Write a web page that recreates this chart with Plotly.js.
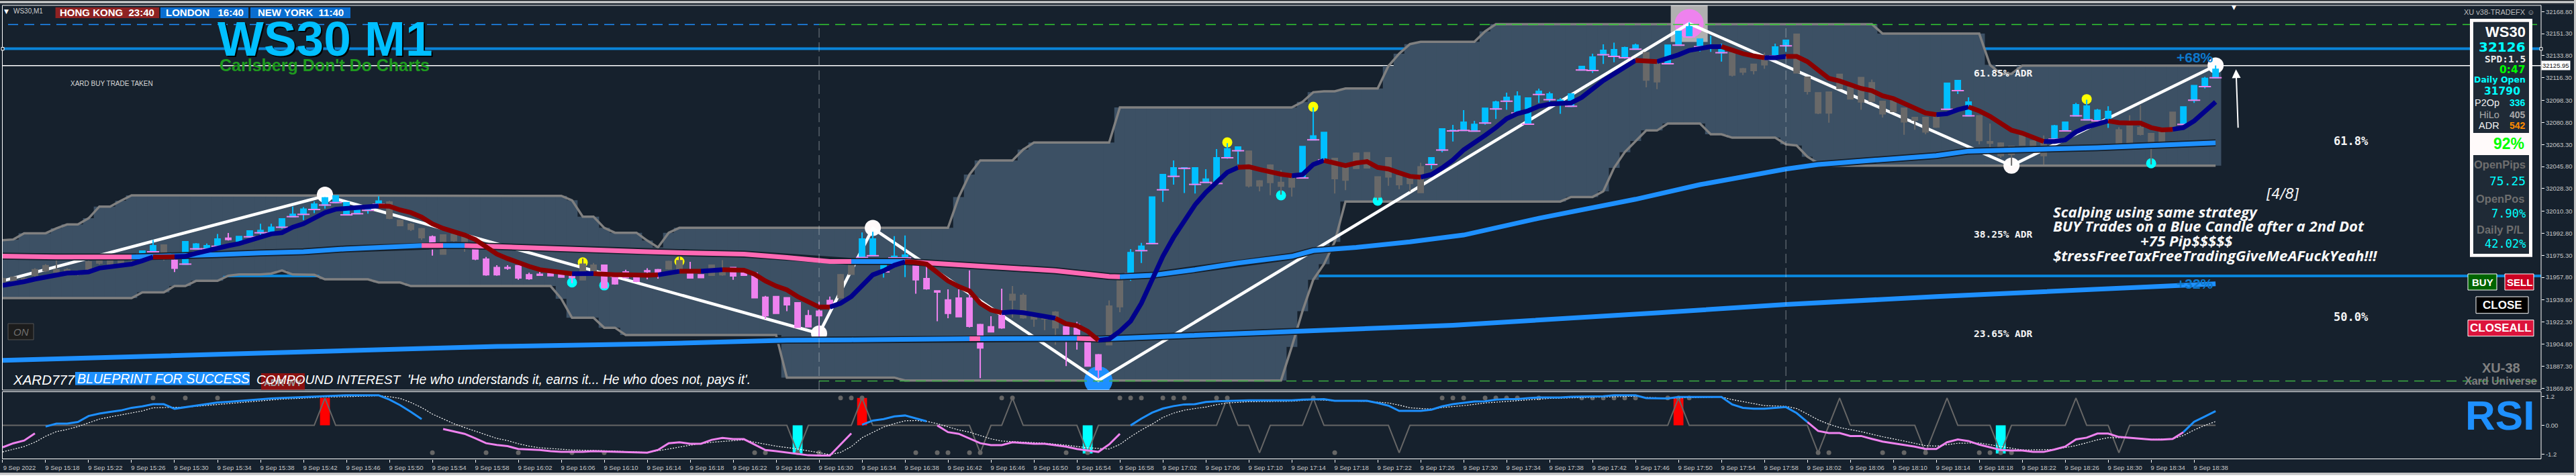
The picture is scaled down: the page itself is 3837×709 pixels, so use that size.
<!DOCTYPE html>
<html><head><meta charset="utf-8">
<script src="https://cdn.plot.ly/plotly-3.0.1.min.js"></script>
<style>html,body{margin:0;padding:0;background:#16212d;overflow:hidden}#c{width:3837px;height:709px}</style>
</head><body><div id="c"></div>
<script>
// ---------- values (one bar = one minute, bar 0 = 15:14) ----------
const kindRuns=[['g',13],['b',2],['g',1],['p',1],['b',4],['p',1],['b',14],['g',4],['p',1],['g',3],['p',10],['g',2],['p',6],['g',2],['p',2],['g',2],['p',10],['g',2],['b',5],['p',9],['g',5],['p',4],['g',2],['b',11],['g',5],['b',3],['g',9],['b',20],['g',2],['b',6],['g',4],['b',2],['g',14],['b',3],['g',7],['b',6],['g',6],['b',4]];
const bodyHigh=[31956.8,31958,31956.8,31963.9,31967,31963.9,31963.9,31962.1,31970.1,31971,
31971,31971,31973.6,31978.6,31982.9,31983.4,31971.3,31986.1,31984.3,31982.9,
31988.2,31988.9,31990.2,31994.6,31995,31997.6,32004.2,32007.8,32011.9,32015.9,
32020.9,32022.5,32017.2,32012.7,32013.6,32018.4,32017.5,32003,31999.9,31996.4,
31990,31991.4,31991.8,31990,31979.9,31972.2,31965.6,31965.6,31967.1,31959.8,
31960.3,31960.8,31960.3,31958.5,31968.3,31967.4,31967.4,31959.4,31962.1,31957.6,
31963,31963.9,31970.4,31971,31961.2,31959.8,31967.4,31964.7,31965.6,31962.1,
31961.2,31942,31942.5,31941.6,31937.6,31927.4,31931,31939.5,31959.8,31967.4,
31988.2,31988.2,31967.4,31974.5,31975.4,31968.3,31956.8,31947,31939.9,31941.3,
31941.3,31920.3,31918.5,31927.4,31944.3,31943.4,31927.4,31926.5,31930.1,31918.5,
31920.3,31907.9,31896.3,31934.9,31955,31977.5,31982.5,32021.6,32039.4,32044.7,
32044.7,32044.7,32035.8,32052.7,32059.8,32061.3,32058,32034.4,32046.9,32033.2,
32036.7,32061.6,32070,32072.8,32052.2,32047.4,32056.3,32056.8,32037.6,32052.7,
32038.5,32037.6,32045.6,32052.7,32075.6,32074.6,32081,32079.2,32092,32097,
32100.7,32101.6,32100.2,32105.5,32103.4,32098.4,32103.4,32125.2,32132.7,32138,
32138.6,32140.1,32142.1,32136.2,32127.4,32142.1,32153.1,32156.7,32146.9,32141.6,
32139.8,32136.2,32123.4,32127,32130.9,32140.7,32146,32150.8,32116.7,32104.3,
32104.8,32119,32108.7,32116.5,32112.3,32097.5,32098,32092,32084.7,32084.7,
32085.6,32111.9,32114,32097,32086.1,32065.5,32064.3,32061.6,32071.4,32066,
32065.2,32078,32081,32094.8,32093.8,32090.4,32089.5,32074.9,32078.1,32076.7,
32071.9,32073.2,32088.8,32093.1,32110.1,32115.8,32122.9];
const bodyLow=[31954.4,31955,31955,31959.4,31963,31962.1,31961.5,31960.3,31963.9,31969.2,
31968.3,31968.7,31971.5,31976.3,31978.1,31976.3,31965.1,31968.3,31980.4,31980.4,
31982.5,31987.8,31984.6,31990,31993.2,31993.2,31997.6,32006,32007.8,32011.7,
32015.2,32017.2,32007.4,32008.3,32011,32015.9,32004.7,31998.9,31995.9,31989.3,
31980.7,31976.3,31987,31986,31972.4,31959.8,31959.8,31965.1,31957.3,31956.8,
31959.4,31959,31958,31957.6,31955.9,31961.2,31949.6,31952.7,31957.6,31954.6,
31962.4,31959.8,31964.7,31963.9,31957.3,31957.6,31959.4,31959.8,31958.9,31959.4,
31941.6,31927.4,31929.2,31936,31918.2,31918.5,31927.4,31935.4,31941.6,31960.3,
31973.6,31975,31962.1,31973.3,31973.3,31955.9,31948.8,31946.1,31929.2,31926.5,
31918.9,31901.7,31914.6,31917.7,31939.9,31925.7,31924.8,31924.8,31917.7,31912.3,
31909.7,31887.4,31884.4,31904.3,31934.5,31960.8,31979,31984.6,32027.3,32038,
32044.4,32031.6,32033.2,32032.3,32052.7,32058.4,32030.5,32030.5,32033.2,32030.2,
32029.6,32036.7,32067,32051,32036.2,32035,32044.4,32044.7,32021.6,32037.6,
32031.4,32032.3,32025.2,32047.4,32058.9,32074,32074.4,32073.9,32080.3,32091.5,
32097.7,32088.3,32079.4,32103,32098.9,32094.8,32093.6,32122.4,32122,32134.5,
32133.2,32132.2,32138.9,32114.4,32113.1,32127.4,32142.1,32148.7,32141,32140.7,
32136.2,32118.5,32120.8,32122,32126.5,32133.6,32141.6,32120.2,32105.5,32088.3,
32088.3,32107.8,32099.5,32097.1,32097.7,32087.7,32089.5,32081.2,32082.6,32073.2,
32077.1,32091.3,32106,32086,32066.4,32064.3,32054.5,32055.4,32062.9,32060.7,
32054.5,32067.5,32074,32086.1,32082.9,32082,32082,32063.4,32063.4,32071.4,
32065.3,32066,32076.7,32079.2,32098.4,32109.2,32116.3];
const wickHigh=[31957.6,31958.5,31958,31965,31968.3,31971.9,31965,31963,31971,31972,
31972,31972,31975,31979,31987.5,31984,31972,31986.5,31985,31984.6,
31992.3,31993,31990.5,31995,32000.4,32000.4,32004.7,32014,32013.6,32018,
32021.6,32023,32017.5,32013,32014,32022.2,32018.5,32003.5,32001,31997,
31991,31992,31992,31991,31980.5,31974,31967.4,31967.4,31967.5,31961.5,
31963.3,31962.6,31961,31961.2,31972.7,31969.2,31968,31960,31963.9,31958,
31965.1,31964.5,31971,31974.2,31970.1,31960,31968,31971.5,31966,31963,
31962,31943,31943,31942,31938,31931.9,31938.4,31942.5,31960.5,31968,
31993.5,31994,31968.3,31990.5,31991,31969,31968.3,31947.2,31948.2,31948.2,
31963.3,31921,31927,31948.8,31950.9,31945.2,31928,31927,31931,31919,
31922.4,31908.5,31897,31939.5,31955.5,31980.2,31985.2,32022,32040,32050.6,
32045,32045,32043.7,32059.7,32064.3,32061.5,32058.5,32035,32047.5,32043,
32037,32062,32092.7,32073,32052.5,32048,32057,32057,32038,32053,
32039,32038,32048.8,32053,32076,32078.8,32090.6,32082,32092.5,32098,
32104.4,32105.5,32100.5,32107.6,32105.1,32100.2,32104,32125.5,32135.4,32142.8,
32144.2,32141,32143.3,32136.5,32128,32142.5,32153.5,32160.2,32147.5,32149.6,
32143.3,32136.5,32124,32127.5,32136.2,32143.3,32146.5,32151,32117,32104.5,
32105,32119.5,32109,32117,32114.9,32098,32099.8,32092.5,32085,32085,
32086,32112,32114.5,32100.7,32086.5,32079.9,32065,32062,32072,32066.5,
32070.5,32078.8,32081.5,32096.3,32098.9,32091.5,32093.6,32077,32086.5,32094.5,
32072.5,32073.5,32089,32093.5,32110.5,32117,32126];
const wickLow=[31953.7,31954.5,31954,31958,31962,31960.3,31960,31959,31962,31968,
31967,31967,31970,31976,31978,31971,31962,31968,31980,31978.1,
31982,31987,31984.5,31989.3,31991.1,31993,31996.4,32006,32003.3,32008.8,
32012.4,32016.5,32007,32008,32008.3,32015,32004,31998.5,31994.6,31987.5,
31975,31976,31986,31978.1,31971.5,31959,31959,31963.9,31955.9,31955.9,
31958.9,31958.5,31957.5,31953.2,31955.5,31960.5,31948.8,31952,31957,31954,
31956.2,31956.8,31964,31963,31957,31957,31959,31959,31955.9,31959,
31941,31924.8,31929,31931,31918,31918,31909.7,31935,31941,31960,
31973,31975,31957.6,31973,31958,31944.8,31948,31923,31925.3,31926,
31918,31877.7,31914,31917,31925.7,31925,31918.5,31915.9,31904.3,31887.4,
31900.4,31887,31877.7,31904,31930.1,31955,31969.2,31984,32017.7,32031.4,
32024.8,32024.3,32033,32032,32052,32047.7,32029.1,32026.1,32023,32023.4,
32022,32036.5,32067,32051,32024.3,32027,32044,32044.5,32019,32030.5,
32027.8,32026,32025,32043.8,32057.2,32065.7,32074,32073.5,32079,32083.5,
32090.9,32088,32079,32096.3,32096.3,32087.7,32093,32122,32120.2,32127.2,
32128.6,32131.4,32138.5,32108.7,32107.3,32127,32142,32148.5,32137.1,32136.8,
32129.1,32117.2,32118.5,32119,32123.3,32133,32136.8,32120,32103,32087.4,
32080.6,32107.5,32099,32090.9,32097.5,32084.7,32089,32071,32075,32071.4,
32076.5,32091,32103.4,32086,32063.4,32057.2,32052.7,32046.5,32062.5,32060,
32047.4,32067,32074,32086,32082.5,32082,32076.4,32063,32063,32070.5,
32047.4,32066,32076.5,32079,32096.3,32107.8,32116];

const bandUpperRuns=[[31987.3,1],[31987.9,1],[31992.8,3],[31996.7,1],[31999.8,2],[32004.7,1],[32014,2],[32018.6,1],[32022.9,40],[32022.5,1],[32019,1],[32006,2],[31997.1,1],[31993.2,3],[31987,1],[31981.6,1],[31993.2,1],[31997.1,26],[32021.6,1],[32039.4,1],[32050.6,4],[32059.3,1],[32064.8,8],[32092.7,17],[32097.1,1],[32104.8,1],[32105.5,2],[32107.8,4],[32125.6,1],[32135.4,1],[32143,1],[32144.8,6],[32153.1,1],[32158.8,36],[32151.3,10],[32126.5,1],[32119.4,2],[32125.9,19]];
const bandLowerRuns=[[31941.3,13],[31945.9,3],[31950.9,2],[31955,3],[31959.1,1],[31960.1,3],[31960.8,1],[31963.3,1],[31960.1,2],[31959.8,1],[31956.2,5],[31953.7,3],[31950.9,14],[31940.8,1],[31925.7,3],[31917.8,2],[31912,15],[31878.2,11],[31875.9,36],[31902.6,1],[31931,1],[31955.9,1],[31968.3,1],[31986,1],[32018,21],[32021.6,3],[32026.1,1],[32044.7,1],[32057.2,1],[32066,1],[32074.4,2],[32079.9,4],[32071.4,2],[32068.7,5],[32063.4,1],[32062.5,1],[32053.6,1],[32048.3,1],[32046.5,37]];

const fastMa=[31951.4,31952.7,31954.4,31956.4,31958,31960.3,31961.2,31961.5,31962.1,31965.1,
31966.2,31966.9,31968.3,31971,31974,31974.2,31974.2,31974.5,31976.8,31979,
31980.7,31982.9,31984.6,31987,31989.6,31992.3,31993.2,31997.6,32000.3,32004.7,
32009.2,32011.9,32012.7,32013.1,32013.6,32014.5,32014.2,32011.3,32009.2,32005.6,
32000.3,31996.7,31994.1,31991.4,31987.8,31982.5,31976.3,31972.7,31969.2,31966.5,
31963.9,31963,31962.1,31960.7,31960.7,31960.8,31960.1,31959.8,31959.8,31959.4,
31959.4,31959.8,31961.5,31962.6,31962.6,31962.6,31963,31963.9,31963.9,31963.5,
31960.3,31955,31950.9,31947.9,31942.5,31938.4,31934.2,31934.2,31937.2,31942.5,
31951.4,31959.8,31963,31967.4,31970.1,31969.7,31968.3,31961.2,31955,31950.5,
31947,31937.2,31931.9,31929.7,31930.4,31929.7,31928.3,31927.4,31925.3,31920.9,
31919.4,31915,31907.9,31908.8,31915,31923,31937.2,31955.9,31974.5,31989.6,
32003,32015.4,32025.2,32033.2,32041.2,32045.1,32045.6,32043.5,32041.5,32039.7,
32038.5,32039.4,32047.4,32050.6,32048.6,32046.5,32048.6,32049.7,32045.1,32043.8,
32040.8,32038,32037.3,32039.4,32044.7,32051,32059,32064.3,32070.5,32076.7,
32083.8,32087.7,32090,32093.6,32095.4,32095.9,32096.3,32100.7,32107.8,32114,
32119.4,32124.7,32130,32130,32129.1,32131.4,32134.5,32138,32139.8,32141,
32141,32138,32135.4,32133.6,32132.2,32132.2,32133.2,32133.2,32129.1,32122,
32115.8,32113.7,32110.8,32107.8,32106,32102,32099.8,32095.9,32091.8,32088.3,
32087,32087.7,32090.9,32093.1,32090,32085.6,32080.3,32074.6,32072.3,32068.7,
32065.7,32065.7,32066.9,32073.2,32077.1,32079.9,32082,32080.6,32080.3,32080.3,
32076.7,32074.9,32075.3,32076.7,32082,32089.2,32097.1];
const fastMaRed=[[14,16],[35,53],[55,61],[63,65],[67,77],[84,93],[98,102],[115,120],[123,132],[152,154],[160,164],[166,180],[183,190],[196,202]];
const fastMaNavy=[[0,14],[16,35],[53,55],[61,63],[65,67],[77,84],[93,98],[102,115],[120,123],[132,152],[154,160],[164,166],[180,183],[190,196],[202,206]];

const midMaBars=[0,2,5,12,16,20,24,28,32,36,39,41,43,46,52,56,60,64,69,73,77,79,84,90,98,103,104,107,111,115,120,122,126,131,136,143,152,158,166,169,180,183,195,206];
const midMaVals=[31974.7,31974.3,31974,31974,31974.5,31975.8,31977.2,31978.1,31980.4,31982.2,31983.1,31983.1,31983.1,31982.2,31979.9,31978.6,31978.1,31977.2,31976.3,31973.6,31970.4,31970.4,31970.4,31967.4,31963,31958.5,31958.2,31959.4,31963.9,31969.2,31974.5,31979,31981.6,31986,31991.4,32004.7,32019.8,32031.4,32043.8,32047.4,32054.5,32058,32060.7,32064.6];
const midMaPink=[[0,12],[39,41],[43,79],[84,104]];
const slowMaBars=[0,15,30,46,60,73,79,89,90,91,99,100,102,110,120,135,154,166,180,206];
const slowMaVals=[31891.9,31895.4,31899,31902.9,31904.9,31907.9,31908.2,31909.1,31909.1,31909.1,31909.3,31909.3,31908.8,31911.4,31914.1,31919.8,31929.6,31936.3,31942.5,31952.7];
const slowMaPink=[[90,91],[100,102]];

const zigzagBars=[0,30,76,81,102,157,187,206];
const zigzagVals=[31955,32022.5,31913.2,31996.7,31875.9,32159.3,32046.5,32125.9];
const whiteDotBars=[30,76,81,187,206];
const whiteDotVals=[32023.4,31913.2,31997,32046.5,32126];
const yellowDotBars=[54,63,114,122,194];
const yellowDotVals=[31969.7,31970.4,32065,32093.2,32099.3];
const cyanDotBars=[53,56,119,128,200];
const cyanDotVals=[31953.7,31951.4,32022.9,32018.6,32048.3];

const priceTicks=[32168.80,32151.30,32133.80,32116.30,32098.30,32080.80,32063.30,32045.80,32028.30,32010.30,31992.80,31975.30,31957.80,31939.80,31922.30,31904.80,31887.30,31869.80];
const timeTickBars=[0,4,8,12,16,20,24,28,32,36,40,44,48,52,56,60,64,68,72,76,80,84,88,92,96,100,104,108,112,116,120,124,128,132,136,140,144,148,152,156,160,164,168,172,176,180,184,188,192,196,200,204];
const timeTickLabels=['9 Sep 2022','9 Sep 15:18','9 Sep 15:22','9 Sep 15:26','9 Sep 15:30','9 Sep 15:34','9 Sep 15:38','9 Sep 15:42','9 Sep 15:46','9 Sep 15:50','9 Sep 15:54','9 Sep 15:58','9 Sep 16:02','9 Sep 16:06','9 Sep 16:10','9 Sep 16:14','9 Sep 16:18','9 Sep 16:22','9 Sep 16:26','9 Sep 16:30','9 Sep 16:34','9 Sep 16:38','9 Sep 16:42','9 Sep 16:46','9 Sep 16:50','9 Sep 16:54','9 Sep 16:58','9 Sep 17:02','9 Sep 17:06','9 Sep 17:10','9 Sep 17:14','9 Sep 17:18','9 Sep 17:22','9 Sep 17:26','9 Sep 17:30','9 Sep 17:34','9 Sep 17:38','9 Sep 17:42','9 Sep 17:46','9 Sep 17:50','9 Sep 17:54','9 Sep 17:58','9 Sep 18:02','9 Sep 18:06','9 Sep 18:10','9 Sep 18:14','9 Sep 18:18','9 Sep 18:22','9 Sep 18:26','9 Sep 18:30','9 Sep 18:34','9 Sep 18:38'];

const rsi=[-0.91,-0.74,-0.63,-0.33,-0.05,0.07,0.07,0.14,0.39,0.49,
0.56,0.62,0.73,0.79,0.88,0.88,0.69,0.76,0.82,0.88,
0.95,0.98,1.02,1.05,1.08,1.12,1.14,1.16,1.18,1.21,
1.21,1.25,1.25,1.25,1.25,1.25,1.07,0.84,0.56,0.26,
null,-0.15,-0.26,-0.35,-0.54,-0.74,-0.81,-0.86,-0.98,-1.00,
-1.02,-1.07,-1.10,-1.10,-1.10,-1.07,-1.08,-1.10,-1.10,-1.13,
-1.13,-1.02,-0.74,-0.70,-0.76,-0.76,-0.60,-0.52,-0.57,-0.57,
-0.79,-1.02,-1.07,-1.13,-1.19,-1.24,-1.25,-1.25,-0.79,-0.33,
0.03,0.20,0.26,0.37,0.41,0.30,0.17,0.00,-0.28,-0.35,
-0.54,-0.74,-0.82,-0.82,-0.70,-0.74,-0.76,-0.76,-0.82,-0.88,
-0.98,-1.04,-1.10,-0.79,-0.35,0.00,0.28,0.53,0.70,0.80,
0.87,0.88,0.97,1.00,1.02,1.04,1.04,1.04,1.04,1.04,
1.04,1.07,1.09,1.09,1.02,1.02,1.02,1.02,0.93,0.82,
0.60,0.60,0.60,0.65,0.79,0.88,0.93,0.99,1.00,1.07,
1.09,1.09,1.13,1.16,1.16,1.16,1.19,1.19,1.21,1.21,
1.25,1.25,1.25,1.13,1.12,1.12,1.18,1.18,1.18,1.18,
1.18,0.87,0.73,0.69,0.69,0.73,0.76,0.51,0.14,-0.23,
-0.32,-0.32,-0.44,-0.44,-0.56,-0.67,-0.74,-0.80,-0.88,-0.98,
-0.98,-0.70,-0.58,-0.65,-0.80,-0.91,-1.02,-1.04,-1.04,-1.10,
-1.10,-1.00,-0.88,-0.58,-0.51,-0.34,-0.34,-0.48,-0.51,-0.54,
-0.59,-0.59,-0.56,-0.28,0.15,0.37,0.59];
const rsiBlue=[[4,39],[80,86],[105,168],[203,206]];
const rsiViolet=[[0,3],[41,79],[87,104],[168,203]];
const rsiSignalBars=[0,2,3,4,5,6,7,8,9,10,11,12,13,14,15,16,17,18,20,22,24,26,28,30,32,34,35,36,37,38,39,40,41,42,43,44,45,46,47,48,49,50,51,52,53,56,59,60,62,64,66,68,69,70,72,74,76,77,78,79,80,81,82,83,84,85,86,87,88,89,90,91,92,93,94,95,97,99,101,103,104,105,106,107,108,109,110,111,112,113,114,116,120,122,124,127,129,130,131,132,133,134,136,138,140,142,144,146,148,150,152,153,155,157,160,161,162,164,166,167,168,169,170,171,173,175,177,179,180,182,184,186,188,191,193,195,196,198,200,202,203,204,205,206];
const rsiSignalVals=[-1.10,-0.88,-0.70,-0.45,-0.26,-0.17,-0.05,0.11,0.26,0.35,0.44,0.51,0.60,0.73,0.74,0.73,0.76,0.79,0.87,0.95,1.02,1.09,1.13,1.18,1.19,1.21,1.23,1.19,1.12,0.95,0.74,0.47,0.26,0.07,-0.09,-0.23,-0.39,-0.54,-0.63,-0.76,-0.86,-0.93,-0.96,-1.00,-1.02,-1.05,-1.10,-1.12,-0.98,-0.82,-0.70,-0.63,-0.60,-0.70,-0.86,-0.98,-1.12,-1.21,-1.12,-0.88,-0.51,-0.28,-0.07,0.07,0.19,0.20,0.17,0.07,-0.05,-0.19,-0.28,-0.42,-0.56,-0.65,-0.67,-0.70,-0.74,-0.82,-0.93,-0.98,-0.79,-0.47,-0.19,0.05,0.33,0.51,0.63,0.70,0.76,0.86,0.93,0.98,1.00,1.07,1.02,1.00,0.93,0.84,0.73,0.70,0.68,0.74,0.82,0.93,1.00,1.07,1.12,1.14,1.16,1.19,1.21,1.16,1.13,1.15,1.18,1.07,0.98,0.82,0.79,0.70,0.47,0.23,0.05,-0.09,-0.26,-0.47,-0.65,-0.84,-0.86,-0.74,-0.73,-0.88,-1.02,-1.00,-0.84,-0.60,-0.51,-0.51,-0.58,-0.56,-0.42,-0.19,0.00,0.16];
const stateUpBars=[30,80,94,114,122,156,171,181,193];
const stateDownBars=[74,91,101,117,130,169,179,186,197];
const stateLevel=1.135;
const redHistBars=[30,80,156];
const cyanHistBars=[74,101,186];
const dotsUpBars=[14,17,20,78,79,80,93,94,104,105,106,108,109,110,113,114,122,134,135,136,138,139,140,141,143,147,148,149,150,151,152,155,156,157];
const dotsDownBars=[40,45,48,53,56,70,71,74,76,85,87,88,90,91,99,101,124,169,170,175,177,179,184,185,186,187];
const rsiTicks=[1.2,0,-1.2];
const rsiTickLabels=['1.2','0.00','-1.2'];

// ---------- helpers ----------
const W=3837,H=709;
const expand=r=>r.flatMap(([v,n])=>Array(n).fill(v));
const kinds=expand(kindRuns);
const bars=kinds.map((_,i)=>i);
const bandUpper=expand(bandUpperRuns), bandLower=expand(bandLowerRuns);
const inRanges=(i,rs)=>rs.some(([a,b])=>i>=a&&i<=b);
const pick=(vals,rs)=>vals.map((v,i)=>inRanges(i,rs)?v:null);
function knotSeries(bx,vals,rs){const x=[],y=[];rs.forEach(([a,b])=>{bx.forEach((k,j)=>{if(k>=a&&k<=b){x.push(k);y.push(vals[j]);}});x.push(null);y.push(null);});return {x,y};}
function complement(rs,n){const out=[];let s=0;rs.forEach(([a,b])=>{if(a>s)out.push([s,a]);s=b;});if(s<n)out.push([s,n]);return out;}

const BG='#16212d',BAND='#3c5064',CBLUE='#00bfff',CPINK='#ee82ee',CGRAY='#696969',DODGER='#1e90ff',HOT='#ff69b4';
const MAINTOP=8,MAINBOT=581,RSITOP=583.5,RSIBOT=683.5;
const YRANGE=[31868.3,32173.74];
const XRANGE=[-0.03,236.3];

function candle(k,color){
  const idx=bars.filter(i=>kinds[i]===k);
  return {type:'candlestick',xaxis:'x',yaxis:'y3',x:idx,open:idx.map(i=>bodyLow[i]),close:idx.map(i=>bodyHigh[i]),high:idx.map(i=>wickHigh[i]),low:idx.map(i=>wickLow[i]),
    increasing:{line:{color,width:2},fillcolor:color},decreasing:{line:{color,width:2},fillcolor:color},hoverinfo:'skip',showlegend:false};
}
const line=(x,y,color,width,yaxis,extra)=>Object.assign({type:'scatter',mode:'lines',x,y,xaxis:'x',yaxis:yaxis||'y',line:Object.assign({color,width},extra||{}),hoverinfo:'skip',connectgaps:false,showlegend:false});
const dots=(x,y,color,size,yaxis,symbol)=>({type:'scatter',mode:'markers',x,y,xaxis:'x',yaxis:yaxis||'y',marker:{color,size,symbol:symbol||'circle',line:{width:symbol==='line-ew'?2:0,color}},hoverinfo:'skip',showlegend:false,cliponaxis:true});

const state=bars.map(i=>stateUpBars.includes(i)?stateLevel:stateDownBars.includes(i)?-stateLevel:0);
const midBlue=knotSeries(midMaBars,midMaVals,complement(midMaPink,206));
const midPink=knotSeries(midMaBars,midMaVals,midMaPink);
const slowBlue=knotSeries(slowMaBars,slowMaVals,complement(slowMaPink,206));
const slowPink=knotSeries(slowMaBars,slowMaVals,slowMaPink);
const blueIdx=bars.filter(i=>kinds[i]==='b');

const traces=[
  // --- under the candles ---
  {type:'bar',x:bars,base:bandLower,y:bars.map(i=>bandUpper[i]-bandLower[i]),width:1.04,xaxis:'x',yaxis:'y',marker:{color:BAND,line:{width:0}},hoverinfo:'skip',showlegend:false},
  line(bars,bandUpper,'#808080',3.5),
  line(bars,bandLower,'#808080',3.5),
  dots([157],[32159.3],'#b0b0b0',55,'y','square'),
  dots([157],[32159.3],CPINK,43),
  dots([102],[31875.9],DODGER,42),
  dots(yellowDotBars,yellowDotVals,'#ffff00',15),
  dots(cyanDotBars,cyanDotVals,'#00ffff',15),
  dots(whiteDotBars,whiteDotVals,'#fffafa',24),
  line(zigzagBars,zigzagVals,'#ffffff',4.5),
  // --- overlay subplot: candles and averages ---
  candle('g',CGRAY),candle('p',CPINK),candle('b',CBLUE),
  dots(blueIdx,blueIdx.map(i=>bodyLow[i]),CPINK,13,'y3','line-ew'),
  line(slowMaBars,slowMaVals,'#15202c',10.5,'y3'),
  line(slowBlue.x,slowBlue.y,DODGER,7,'y3'),
  line(slowPink.x,slowPink.y,HOT,7,'y3'),
  line(midMaBars,midMaVals,'#15202c',10.5,'y3'),
  line(midBlue.x,midBlue.y,DODGER,7,'y3'),
  line(midPink.x,midPink.y,HOT,7,'y3'),
  line(bars,pick(fastMa,fastMaNavy),'#00008b',7,'y3'),
  line(bars,pick(fastMa,fastMaRed),'#8b0000',7,'y3'),
  // --- RSI panel ---
  {type:'bar',x:redHistBars,y:redHistBars.map(()=>stateLevel),width:0.92,xaxis:'x',yaxis:'y2',marker:{color:'#ff0000',line:{width:0}},hoverinfo:'skip',showlegend:false},
  {type:'bar',x:cyanHistBars,y:cyanHistBars.map(()=>-1.165),width:0.92,xaxis:'x',yaxis:'y2',marker:{color:'#00ffff',line:{width:0}},hoverinfo:'skip',showlegend:false},
  line(bars,state,'#666666',2,'y2'),
  dots(dotsUpBars,dotsUpBars.map(()=>stateLevel),'#666666',7,'y2'),
  dots(dotsDownBars,dotsDownBars.map(()=>-stateLevel),'#666666',7,'y2'),
  line(rsiSignalBars,rsiSignalVals,'#ffffff',1.2,'y2',{dash:'2px,2px'}),
  line(bars,pick(rsi,rsiViolet),CPINK,3,'y2'),
  line(bars,pick(rsi,rsiBlue),DODGER,3,'y2')
];

// pixel-positioned furniture
const X=p=>p/W, Y=p=>1-p/H;
const box=(x0,y0,x1,y1,fill,lc,lw,layer)=>({type:'rect',xref:'paper',yref:'paper',x0:X(x0),x1:X(x1),y0:Y(y1),y1:Y(y0),fillcolor:fill,line:{color:lc||fill,width:lw===undefined?0:lw},layer:layer||'above'});
const hline=(price,x0,x1,color,width,dash,layer)=>({type:'line',xref:'x',yref:'y',x0,x1,y0:price,y1:price,line:{color,width,dash},layer});
const vdash=(bar)=>({type:'line',xref:'x',yref:'paper',x0:bar,x1:bar,y0:Y(MAINBOT),y1:Y(36),line:{color:'rgba(200,205,210,0.55)',width:1,dash:'14px,7px'},layer:'above'});

const shapes=[
  box(0,0,W,2,'#3a3f44'),box(0,2,W,4,'#f2f2f2'),box(0,4,W,6,'#50565c'),
  box(0,704,W,706.5,'#c8c8c8'),box(0,706.5,W,709,'#f4f4f4'),box(3834,0,W,H,'#c8c8c8'),
  hline(32139.3,-1,240,'#0a84d8',4,'solid','below'),
  hline(31958.9,-1,240,'#0a84d8',4,'solid','below'),
  hline(32125.95,-1,240,'#ffffff',1.5,'solid','below'),
  hline(32158.5,-1,76,DODGER,1.5,'15px,9px','above'),
  hline(32158.5,76,240,'#32cd32',1.5,'15px,9px','above'),
  hline(31875.5,76,240,'#3cb043',1.5,'15px,9px','above'),
  vdash(76),vdash(166),
  box(3.5,MAINTOP,3785,MAINBOT,'rgba(0,0,0,0)','#ffffff',1),
  box(3.5,RSITOP,3785,RSIBOT,'rgba(0,0,0,0)','#ffffff',1),
  box(82.6,11,237,27,'#8f2222'),box(239,11,370,27,'#0a6ed1'),box(373,11,522,27,'#0a6ed1'),
  box(12,482,50,506,'#1c1c1c','#555',1),
  box(389,556,454,580.5,'#8b1010'),
  box(112,554,372,573.5,DODGER),
  box(3679,28,3772,382.7,'#fffafa'),
  box(3684,32.7,3767,198,'#1f2a36'),
  box(3684,231,3767,378,'#1f2a36'),
  box(3676,408,3719,432,'#006400','#fff',1),box(3731,408,3774,432,'#cc0022','#fff',1),
  box(3688,442,3766,466.7,'#000000','#fff',1),box(3676,476.7,3774,500.7,'#dc143c','#fff',1),
  box(2,70.5,6,75,BG,'#fff',1),box(3783,70.5,3787,75,BG,'#fff',1)
];

const SANS='Liberation Sans',MONO='DejaVu Sans Mono',DJ='DejaVu Sans';
function T(text,px,py,size,color,o){o=o||{};return {xref:'paper',yref:'paper',x:X(px),y:Y(py),xanchor:o.a||'left',yanchor:'middle',text,showarrow:false,borderpad:0,font:{family:o.f||SANS,size,color,shadow:o.s||'none'}};}
const RX=3763;
const annotations=[
  T('▼',9,17,9,'#fff',{a:'center',f:DJ}),
  T('WS30,M1',19,17,10,'#cfcfcf'),
  T('<b>HONG KONG  23:40</b>',159.8,19,15,'#fff',{a:'center'}),
  T('<b>LONDON   16:40</b>',304.5,19,15,'#fff',{a:'center'}),
  T('<b>NEW YORK  11:40</b>',447.5,19,15,'#fff',{a:'center'}),
  T('<b>WS30 M1</b>',484,58,73,'#00bfff',{a:'center',s:'2px 2px 0px #000'}),
  T("<b>Carlsberg Don't Do Charts</b>",484,96.5,25,'#1f9a1f',{a:'center'}),
  T('XARD BUY TRADE TAKEN',104,125,10,'#d8d8d8'),
  T('<i>ON</i>',31,494,15,'#6f6f6f',{a:'center'}),
  T('<b>ADR WY</b>',421.5,570,14,'#9a9a9a',{a:'center'}),
  T('<i>XARD777</i>',18,565,20.5,'#fff'),
  T('<i>BLUEPRINT FOR SUCCESS</i>',114,564,19.6,'#fff'),
  T('<i>COMPOUND INTEREST</i>',381,565,19.2,'#fff'),
  T("<i>'He who understands it, earns it... He who does not, pays it'.</i>",606,565,19.3,'#fff'),
  T('<b>+68%</b>',3269,85,21,'#0d78cc',{a:'center'}),
  T('<b>+32%</b>',3269,422,21,'#0d78cc',{a:'center'}),
  T('<b>61.85% ADR</b>',2939,109,14.5,'#f4f4f4',{f:MONO}),
  T('<b>38.25% ADR</b>',2939,349,14.5,'#f4f4f4',{f:MONO}),
  T('<b>23.65% ADR</b>',2939,497,14.5,'#f4f4f4',{f:MONO}),
  T('<b>61.8%</b>',3475,210,17,'#f4f4f4',{f:MONO}),
  T('<b>50.0%</b>',3475,472,17,'#f4f4f4',{f:MONO}),
  T('<i>[4/8]</i>',3400,289,21,'#f4f4f4',{a:'center',f:DJ}),
  T('<b><i>Scalping using same strategy</i></b>',3057,315,22.2,'#f8f8f8',{f:'Open Sans'}),
  T('<b><i>BUY Trades on a Blue Candle after a 2nd Dot</i></b>',3057,337,22.2,'#f8f8f8',{f:'Open Sans'}),
  T('<b><i>+75 Pip$$$$$</i></b>',3257,358,22.2,'#f8f8f8',{a:'center',f:'Open Sans'}),
  T('<b><i>$tressFreeTaxFreeTradingGiveMeAFuckYeah!!!</i></b>',3057,380,22.2,'#f8f8f8',{f:'Open Sans'}),
  T('XU v38-TRADEFX ☺',3776,18,11,'#bcbcbc',{a:'right'}),
  T('<b>WS30</b>',RX,47.5,22,'#ffffff',{a:'right'}),
  T('<b>32126</b>',RX,70,20,'#00ffff',{a:'right',f:DJ}),
  T('<b>SPD:1.5</b>',RX,88.3,14.5,'#e8e8e8',{a:'right',f:MONO}),
  T('<b>0:47</b>',RX,104,15.5,'#00ff00',{a:'right',f:DJ}),
  T('<b>Daily Open</b>',RX,119,12.5,'#00ffff',{a:'right',f:DJ}),
  T('<b>31790</b>',3755,136,15.5,'#00ffff',{a:'right',f:DJ}),
  T('P2Op',3724,153.3,14.5,'#f0f0f0',{a:'right'}),
  T('<b>336</b>',RX,153.3,14,'#00ffff',{a:'right'}),
  T('HiLo',3724,170.7,14.5,'#a8a8a8',{a:'right'}),
  T('<b>405</b>',RX,170.7,14,'#a8a8a8',{a:'right'}),
  T('ADR',3724,187.3,14.5,'#f0f0f0',{a:'right'}),
  T('<b>542</b>',RX,187.3,14,'#ff8c00',{a:'right'}),
  T('<b>92%</b>',3761,214,23,'#00ff00',{a:'right'}),
  T('<b>OpenPips</b>',RX,245,16.5,'#6e6e6e',{a:'right'}),
  T('75.25',RX,269,18,'#00ffff',{a:'right',f:MONO}),
  T('<b>OpenPos</b>',3761,296,16.5,'#6e6e6e',{a:'right'}),
  T('7.90%',RX,318,17,'#00ffff',{a:'right',f:MONO}),
  T('<b>Daily P/L</b>',3760,341.7,16.5,'#6e6e6e',{a:'right'}),
  T('42.02%',RX,362.7,17,'#00ffff',{a:'right',f:MONO}),
  T('<b>BUY</b>',3697.5,420,15,'#fff',{a:'center'}),
  T('<b>SELL</b>',3752.5,420,15,'#fff',{a:'center'}),
  T('<b>CLOSE</b>',3727,454.5,17,'#fff',{a:'center'}),
  T('<b>CLOSEALL</b>',3725,488.7,17,'#fff',{a:'center'}),
  T('<b>XU-38</b>',3725,548,20,'#808080',{a:'center'}),
  T('<b>Xard Universe</b>',3725,567,16,'#808080',{a:'center'}),
  T('<b>RSI</b>',3723,618,62,DODGER,{a:'center'}),
  T('▼',3327.5,11,9,'#fff',{a:'center',f:DJ}),
  {xref:'paper',yref:'y',x:X(3807),y:32125.95,xanchor:'center',yanchor:'middle',text:'32125.95',showarrow:false,font:{family:SANS,size:9.5,color:'#111'},bgcolor:'#ffffff',borderpad:1},
  {xref:'x',yref:'y',axref:'x',ayref:'y',x:207.9,y:32122.9,ax:208.1,ay:32075.8,text:'',showarrow:true,arrowhead:2,arrowsize:1.3,arrowwidth:2,arrowcolor:'#ffffff',standoff:0}
];

const layout={
  width:W,height:H,margin:{l:0,r:0,t:0,b:0,pad:0},autosize:false,
  paper_bgcolor:BG,plot_bgcolor:BG,showlegend:false,barmode:'overlay',dragmode:false,hovermode:false,
  xaxis:{domain:[X(3.5),X(3785)],range:XRANGE,anchor:'y2',type:'linear',tickmode:'array',tickvals:timeTickBars,ticktext:timeTickLabels,ticks:'outside',ticklen:4,tickwidth:1,tickcolor:'#fff',
    tickfont:{family:SANS,size:9.5,color:'#c8c8c8'},tickangle:0,ticklabelshift:25,showgrid:false,zeroline:false,showline:false,rangeslider:{visible:false},fixedrange:true},
  yaxis:{domain:[Y(MAINBOT),Y(MAINTOP)],range:YRANGE,side:'right',anchor:'x',tickmode:'array',tickvals:priceTicks,ticktext:priceTicks.map(v=>v.toFixed(2)),ticks:'outside',ticklen:4,tickwidth:1,tickcolor:'#fff',
    tickfont:{family:SANS,size:9.5,color:'#c8c8c8'},showgrid:false,zeroline:false,showline:false,fixedrange:true},
  yaxis3:{overlaying:'y',side:'right',anchor:'x',range:YRANGE,showticklabels:false,ticks:'',showgrid:false,zeroline:false,showline:false,fixedrange:true},
  yaxis2:{domain:[Y(RSIBOT),Y(RSITOP)],range:[-1.39,1.396],side:'right',anchor:'x',tickmode:'array',tickvals:rsiTicks,ticktext:rsiTickLabels,ticks:'outside',ticklen:4,tickwidth:1,tickcolor:'#fff',
    tickfont:{family:SANS,size:9.5,color:'#c8c8c8'},showgrid:false,zeroline:false,showline:false,fixedrange:true},
  shapes,annotations
};
Plotly.newPlot('c',traces,layout,{staticPlot:true,displayModeBar:false,responsive:false});
</script></body></html>
